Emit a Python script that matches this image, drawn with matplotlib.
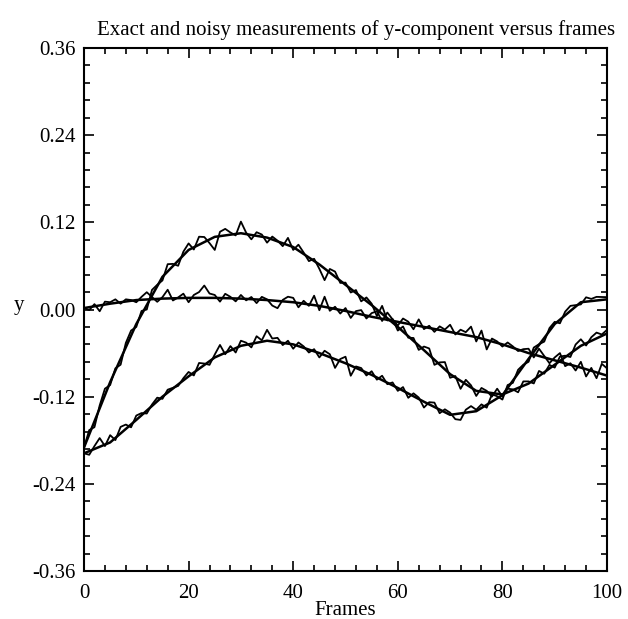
import numpy as np
import matplotlib
matplotlib.use("Agg")
import matplotlib.pyplot as plt
from matplotlib.ticker import MultipleLocator, FormatStrFormatter

# Exact curves sampled every 5 frames
knots = [0, 5, 10, 15, 20, 25, 30, 35, 40, 45, 50, 55, 60, 65, 70, 75, 80, 85, 90, 95, 100]
exact_a = [-0.190, -0.100, -0.020, 0.045, 0.082, 0.100, 0.105, 0.099, 0.086, 0.062, 0.034,
           0.006, -0.024, -0.056, -0.089, -0.112, -0.117, -0.102, -0.076, -0.050, -0.033]
exact_b = [0.002, 0.008, 0.013, 0.015, 0.016, 0.016, 0.015, 0.013, 0.010, 0.005, -0.002,
           -0.010, -0.017, -0.024, -0.031, -0.038, -0.048, -0.060, -0.070, -0.080, -0.091]
exact_c = [-0.198, -0.183, -0.152, -0.120, -0.092, -0.066, -0.050, -0.043, -0.048, -0.060, -0.074,
           -0.090, -0.108, -0.127, -0.145, -0.140, -0.118, -0.068, -0.020, 0.010, 0.014]

# Measurement noise read per frame (deviation from exact curve)
frames = list(range(101))
dev_a = [0.000, 0.006, -0.008, 0.004, 0.009, -0.004, 0.003, -0.008, 0.006, 0.007,
         -0.004, 0.005, -0.006, 0.008, 0.002, -0.005, 0.010, 0.003, -0.007, 0.005,
         0.009, -0.003, 0.011, 0.007, -0.005, -0.018, 0.006, 0.009, 0.003, -0.002,
         0.016, 0.002, -0.006, 0.005, 0.003, -0.007, 0.004, 0.001, -0.004, 0.010,
         -0.004, 0.008, 0.002, -0.005, 0.003, -0.006, -0.016, 0.005, 0.007, -0.003,
         0.003, -0.005, 0.004, -0.006, 0.005, 0.002, -0.009, 0.011, -0.003, 0.005,
         -0.005, 0.007, -0.002, 0.004, -0.006, 0.005, 0.009, -0.007, 0.003, 0.010,
         -0.005, 0.002, -0.011, 0.006, 0.003, -0.007, 0.005, 0.002, -0.005, 0.007,
         -0.003, 0.005, 0.001, -0.006, 0.006, 0.003, -0.005, 0.007, -0.002, 0.005,
         -0.004, 0.006, 0.002, -0.005, 0.007, 0.009, -0.003, 0.005, 0.008, 0.002,
         0.005]
dev_b = [0.000, -0.004, 0.003, -0.008, 0.004, 0.002, 0.005, -0.002, 0.003, 0.001,
         -0.003, 0.004, 0.010, 0.003, -0.004, 0.002, 0.012, -0.003, 0.001, 0.006,
         -0.006, 0.004, 0.008, 0.017, 0.006, 0.004, -0.005, 0.006, 0.002, -0.004,
         0.005, -0.002, 0.003, -0.005, 0.004, 0.001, -0.007, -0.010, 0.002, 0.007,
         0.006, -0.006, 0.004, -0.002, 0.013, -0.006, 0.014, -0.004, 0.003, -0.005,
         0.004, -0.008, 0.003, 0.006, -0.004, 0.005, 0.009, -0.003, 0.010, 0.002,
         -0.005, 0.006, 0.003, -0.006, 0.009, -0.003, 0.003, -0.004, 0.005, 0.002,
         0.010, -0.002, 0.006, 0.004, 0.013, -0.006, 0.011, -0.013, 0.004, 0.002,
         -0.003, 0.005, 0.002, -0.002, 0.003, 0.006, -0.004, 0.010, 0.002, -0.006,
         0.004, 0.012, -0.004, 0.002, -0.006, 0.008, -0.010, 0.004, -0.008, 0.014,
         0.010]
dev_c = [0.000, -0.005, 0.004, 0.012, -0.002, 0.010, -0.003, 0.009, 0.006, -0.004,
         0.006, 0.003, -0.004, 0.002, 0.005, -0.003, 0.004, 0.001, -0.002, 0.003,
         0.006, -0.004, 0.008, 0.002, -0.005, 0.004, 0.014, -0.002, 0.006, -0.006,
         0.007, 0.003, -0.005, 0.009, 0.002, 0.015, 0.004, 0.006, -0.003, 0.004,
         -0.006, 0.005, 0.002, -0.004, 0.003, -0.006, 0.006, 0.004, -0.012, 0.003,
         0.009, -0.014, 0.002, 0.003, -0.004, 0.005, -0.003, 0.006, -0.002, 0.004,
         -0.004, 0.005, -0.006, 0.004, 0.002, -0.008, 0.003, 0.006, -0.005, 0.004,
         0.003, -0.007, -0.009, 0.004, 0.008, 0.002, 0.005, -0.004, 0.010, 0.003,
         -0.006, 0.004, -0.003, 0.005, 0.002, -0.004, 0.006, 0.001, -0.005, 0.004,
         0.003, -0.005, 0.005, 0.007, 0.002, -0.003, 0.006, 0.003, 0.005, 0.004,
         0.003]

plt.rcParams['font.family'] = ['Liberation Serif', 'DejaVu Serif']
plt.rcParams['axes.unicode_minus'] = False

fig = plt.figure(figsize=(6.28, 6.19), dpi=100)
ax = fig.add_axes([84/628, 1-571/619, 523/628, 523/619])

for ex, dv in ((exact_a, dev_a), (exact_b, dev_b), (exact_c, dev_c)):
    ax.plot(knots, ex, color='black', lw=1.8)
    noisy = np.interp(frames, knots, ex) + np.array(dv)
    ax.plot(frames, noisy, color='black', lw=1.3)

ax.set_xlim(0, 100)
ax.set_ylim(-0.36, 0.36)
ax.xaxis.set_major_locator(MultipleLocator(20))
ax.xaxis.set_minor_locator(MultipleLocator(4))
ax.yaxis.set_major_locator(MultipleLocator(0.12))
ax.yaxis.set_minor_locator(MultipleLocator(0.024))
ax.yaxis.set_major_formatter(FormatStrFormatter('%.2f'))
ax.tick_params(which='both', direction='in', top=True, right=True, labelsize=15, width=1.2)
ax.tick_params(which='major', length=7)
ax.tick_params(which='minor', length=4)
ax.tick_params(axis='x', pad=9)
ax.tick_params(axis='y', pad=6)
for s in ax.spines.values():
    s.set_linewidth(1.5)

ax.set_xlabel('Frames', fontsize=15, labelpad=-1)
ax.set_ylabel('y', fontsize=15, rotation=0)
ax.yaxis.set_label_coords(-0.125, 0.49)
fig.text(356/628, 1-35/619, 'Exact and noisy measurements of y-component versus frames',
         fontsize=15, ha='center', va='baseline')

fig.savefig('out.png', dpi=100)
